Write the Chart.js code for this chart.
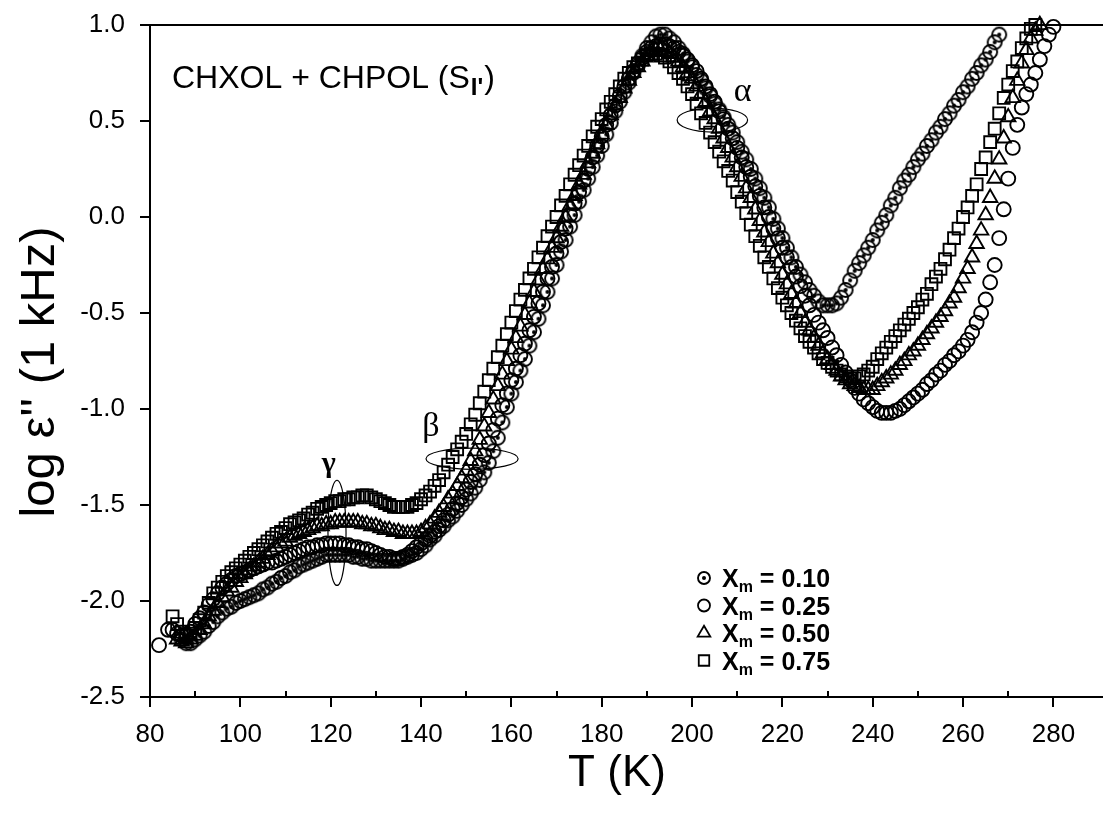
<!DOCTYPE html>
<html>
<head>
<meta charset="utf-8">
<script src="https://cdn.jsdelivr.net/npm/chart.js@4.4.0/dist/chart.umd.min.js"></script>
<style>
  html, body { margin: 0; padding: 0; background: #fff; overflow: hidden; }
  #wrap { width: 1103px; height: 823px; }
</style>
</head>
<body>
<div id="wrap"><canvas id="chart" width="1103" height="823"></canvas></div>
<script>
// temperature grid (K)
const temps = [
  82, 83, 84, 85, 86, 87, 88, 89,
  90, 91, 92, 93, 94, 95, 96, 97, 98, 99,
  100, 101, 102, 103, 104, 105, 106, 107, 108, 109,
  110, 111, 112, 113, 114, 115, 116, 117, 118, 119,
  120, 121, 122, 123, 124, 125, 126, 127, 128, 129,
  130, 131, 132, 133, 134, 135, 136, 137, 138, 139,
  140, 141, 142, 143, 144, 145, 146, 147, 148, 149,
  150, 151, 152, 153, 154, 155, 156, 157, 158, 159,
  160, 161, 162, 163, 164, 165, 166, 167, 168, 169,
  170, 171, 172, 173, 174, 175, 176, 177, 178, 179,
  180, 181, 182, 183, 184, 185, 186, 187, 188, 189,
  190, 191, 192, 193, 194, 195, 196, 197, 198, 199,
  200, 201, 202, 203, 204, 205, 206, 207, 208, 209,
  210, 211, 212, 213, 214, 215, 216, 217, 218, 219,
  220, 221, 222, 223, 224, 225, 226, 227, 228, 229,
  230, 231, 232, 233, 234, 235, 236, 237, 238, 239,
  240, 241, 242, 243, 244, 245, 246, 247, 248, 249,
  250, 251, 252, 253, 254, 255, 256, 257, 258, 259,
  260, 261, 262, 263, 264, 265, 266, 267, 268, 269,
  270, 271, 272, 273, 274, 275, 276, 277, 278, 279,
  280
];

// log eps'' at 1 kHz, one array per molar fraction
const xm010 = [
  null, null, null, null, null, -2.20, -2.22, -2.22,
  -2.20, -2.18, -2.16, -2.13, -2.11, -2.08, -2.06, -2.04, -2.03, -2.01,
  -2.00, -1.99, -1.98, -1.97, -1.96, -1.94, -1.93, -1.91, -1.90, -1.88,
  -1.87, -1.85, -1.84, -1.82, -1.81, -1.80, -1.79, -1.78, -1.77, -1.76,
  -1.76, -1.76, -1.76, -1.76, -1.76, -1.77, -1.77, -1.78, -1.78, -1.79,
  -1.79, -1.79, -1.79, -1.79, -1.79, -1.79, -1.78, -1.77, -1.76, -1.75,
  -1.73, -1.71, -1.68, -1.66, -1.63, -1.61, -1.58, -1.56, -1.53, -1.50,
  -1.47, -1.44, -1.41, -1.37, -1.33, -1.28, -1.22, -1.15, -1.07, -0.99,
  -0.92, -0.86, -0.80, -0.74, -0.67, -0.60, -0.53, -0.46, -0.39, -0.32,
  -0.25, -0.18, -0.12, -0.05, 0.01, 0.08, 0.14, 0.20, 0.26, 0.32,
  0.37, 0.43, 0.49, 0.55, 0.60, 0.65, 0.70, 0.75, 0.79, 0.84,
  0.88, 0.91, 0.94, 0.95, 0.95, 0.93, 0.91, 0.88, 0.85, 0.81,
  0.78, 0.74, 0.71, 0.67, 0.63, 0.59, 0.56, 0.52, 0.48, 0.44,
  0.39, 0.34, 0.30, 0.25, 0.20, 0.15, 0.10, 0.05, -0.01, -0.06,
  -0.11, -0.16, -0.21, -0.26, -0.30, -0.34, -0.38, -0.41, -0.44, -0.46,
  -0.46, -0.46, -0.45, -0.42, -0.38, -0.33, -0.28, -0.24, -0.20, -0.16,
  -0.12, -0.07, -0.03, 0.01, 0.06, 0.10, 0.15, 0.19, 0.22, 0.26,
  0.30, 0.33, 0.37, 0.40, 0.44, 0.47, 0.51, 0.54, 0.58, 0.61,
  0.65, 0.68, 0.72, 0.75, 0.79, 0.82, 0.86, 0.91, 0.95, null,
  null, null, null, null, null, null, null, null, null, null,
  null
];

const xm025 = [
  -2.23, null, -2.15, -2.15, -2.17, -2.18, -2.18, -2.16,
  -2.12, -2.09, -2.06, -2.02, -1.99, -1.96, -1.93, -1.91, -1.89, -1.87,
  -1.86, -1.85, -1.84, -1.83, -1.82, -1.81, -1.80, -1.80, -1.79, -1.78,
  -1.77, -1.76, -1.75, -1.74, -1.73, -1.72, -1.72, -1.71, -1.71, -1.70,
  -1.70, -1.70, -1.70, -1.71, -1.71, -1.72, -1.72, -1.73, -1.73, -1.74,
  -1.75, -1.76, -1.77, -1.77, -1.78, -1.78, -1.77, -1.76, -1.74, -1.72,
  -1.70, -1.68, -1.66, -1.64, -1.61, -1.58, -1.55, -1.52, -1.49, -1.46,
  -1.42, -1.38, -1.34, -1.29, -1.24, -1.18, -1.11, -1.05, -0.98, -0.92,
  -0.85, -0.79, -0.72, -0.66, -0.59, -0.52, -0.45, -0.39, -0.32, -0.26,
  -0.19, -0.13, -0.06, 0.01, 0.07, 0.13, 0.19, 0.25, 0.31, 0.37,
  0.42, 0.48, 0.53, 0.58, 0.63, 0.68, 0.72, 0.76, 0.80, 0.83,
  0.86, 0.88, 0.89, 0.90, 0.90, 0.89, 0.88, 0.86, 0.84, 0.82,
  0.79, 0.76, 0.72, 0.68, 0.64, 0.60, 0.55, 0.51, 0.46, 0.41,
  0.36, 0.31, 0.26, 0.21, 0.16, 0.11, 0.05, 0.00, -0.06, -0.11,
  -0.16, -0.21, -0.26, -0.31, -0.36, -0.41, -0.46, -0.51, -0.55, -0.59,
  -0.63, -0.68, -0.72, -0.77, -0.81, -0.85, -0.89, -0.92, -0.95, -0.97,
  -0.99, -1.01, -1.02, -1.02, -1.02, -1.01, -1.00, -0.98, -0.96, -0.94,
  -0.92, -0.90, -0.87, -0.85, -0.82, -0.80, -0.77, -0.75, -0.72, -0.70,
  -0.67, -0.64, -0.60, -0.55, -0.50, -0.43, -0.34, -0.25, -0.11, 0.04,
  0.20, 0.36, 0.48, 0.57, 0.64, 0.69, 0.75, 0.82, 0.89, 0.95,
  0.99
];

const xm050 = [
  null, null, null, null, -2.20, -2.21, -2.22, -2.20,
  -2.18, -2.15, -2.12, -2.08, -2.05, -2.01, -1.98, -1.95, -1.93, -1.90,
  -1.88, -1.86, -1.84, -1.82, -1.80, -1.78, -1.76, -1.74, -1.72, -1.70,
  -1.69, -1.67, -1.66, -1.65, -1.64, -1.63, -1.62, -1.61, -1.61, -1.60,
  -1.60, -1.59, -1.59, -1.59, -1.59, -1.59, -1.59, -1.60, -1.60, -1.61,
  -1.61, -1.62, -1.63, -1.63, -1.64, -1.64, -1.65, -1.65, -1.65, -1.65,
  -1.64, -1.62, -1.60, -1.57, -1.54, -1.51, -1.47, -1.44, -1.40, -1.36,
  -1.32, -1.27, -1.22, -1.16, -1.09, -1.02, -0.95, -0.88, -0.82, -0.75,
  -0.69, -0.63, -0.57, -0.51, -0.45, -0.39, -0.33, -0.27, -0.22, -0.16,
  -0.11, -0.05, 0.00, 0.06, 0.11, 0.17, 0.22, 0.28, 0.33, 0.38,
  0.43, 0.48, 0.53, 0.58, 0.62, 0.67, 0.71, 0.75, 0.78, 0.81,
  0.84, 0.86, 0.87, 0.87, 0.86, 0.85, 0.83, 0.81, 0.78, 0.75,
  0.72, 0.68, 0.64, 0.60, 0.55, 0.51, 0.46, 0.41, 0.36, 0.31,
  0.26, 0.21, 0.15, 0.10, 0.04, -0.02, -0.08, -0.13, -0.19, -0.24,
  -0.30, -0.35, -0.40, -0.45, -0.50, -0.55, -0.59, -0.63, -0.67, -0.71,
  -0.74, -0.77, -0.80, -0.83, -0.85, -0.87, -0.88, -0.89, -0.90, -0.90,
  -0.90, -0.88, -0.86, -0.84, -0.82, -0.80, -0.77, -0.75, -0.72, -0.70,
  -0.67, -0.64, -0.61, -0.58, -0.55, -0.52, -0.49, -0.45, -0.42, -0.37,
  -0.32, -0.27, -0.21, -0.14, -0.07, 0.01, 0.10, 0.20, 0.30, 0.41,
  0.52, 0.62, 0.71, 0.80, 0.87, 0.93, 0.97, 1.00, null, null,
  null
];

const xm075 = [
  null, null, null, -2.08, -2.12, -2.16, -2.18, -2.17,
  -2.14, -2.10, -2.06, -2.01, -1.96, -1.93, -1.90, -1.87, -1.85, -1.83,
  -1.81, -1.79, -1.77, -1.75, -1.73, -1.71, -1.69, -1.67, -1.65, -1.64,
  -1.62, -1.60, -1.59, -1.58, -1.57, -1.55, -1.54, -1.52, -1.51, -1.50,
  -1.49, -1.48, -1.48, -1.47, -1.47, -1.46, -1.46, -1.45, -1.45, -1.46,
  -1.47, -1.48, -1.49, -1.50, -1.51, -1.51, -1.51, -1.51, -1.50, -1.49,
  -1.47, -1.45, -1.43, -1.40, -1.37, -1.33, -1.29, -1.25, -1.21, -1.17,
  -1.13, -1.08, -1.03, -0.97, -0.91, -0.85, -0.79, -0.73, -0.67, -0.61,
  -0.55, -0.49, -0.43, -0.38, -0.32, -0.27, -0.21, -0.16, -0.10, -0.05,
  0.00, 0.06, 0.11, 0.17, 0.22, 0.27, 0.32, 0.37, 0.42, 0.47,
  0.51, 0.56, 0.60, 0.64, 0.68, 0.72, 0.75, 0.78, 0.80, 0.82,
  0.84, 0.85, 0.85, 0.84, 0.83, 0.81, 0.78, 0.75, 0.72, 0.68,
  0.64, 0.59, 0.54, 0.49, 0.44, 0.39, 0.34, 0.29, 0.24, 0.19,
  0.13, 0.08, 0.02, -0.04, -0.10, -0.15, -0.21, -0.26, -0.32, -0.37,
  -0.42, -0.46, -0.50, -0.54, -0.58, -0.62, -0.65, -0.68, -0.71, -0.74,
  -0.76, -0.78, -0.80, -0.82, -0.83, -0.84, -0.84, -0.83, -0.82, -0.80,
  -0.78, -0.74, -0.71, -0.68, -0.65, -0.62, -0.59, -0.56, -0.53, -0.50,
  -0.47, -0.43, -0.40, -0.35, -0.31, -0.27, -0.22, -0.17, -0.11, -0.06,
  0.00, 0.05, 0.11, 0.17, 0.25, 0.31, 0.39, 0.46, 0.54, 0.62,
  0.69, 0.76, 0.81, 0.88, 0.93, 0.98, 1.00, null, null, null,
  null
];

const seriesLabels = ['0.10', '0.25', '0.50', '0.75'];
const xTicks = [80, 90, 100, 110, 120, 130, 140, 150, 160, 170, 180, 190, 200, 210, 220, 230, 240, 250, 260, 270, 280];
const yTicks = [-2.5, -2.0, -1.5, -1.0, -0.5, 0.0, 0.5, 1.0];

const FONT = 'Arial, "Liberation Sans", sans-serif';
const SERIF = '"Times New Roman", "Liberation Serif", serif';

function toPoints(values) {
    return temps.map((t, i) => values[i] === null ? null : { x: t, y: values[i] }).filter(p => p);
}

// circle with a dot in the middle (no built-in style for it)
function makeDotCircle(r) {
    const c = document.createElement('canvas');
    const s = Math.ceil(2 * r + 4);
    c.width = s; c.height = s;
    const g = c.getContext('2d');
    g.strokeStyle = '#000';
    g.lineWidth = 1.9;
    g.beginPath();
    g.arc(s / 2, s / 2, r, 0, Math.PI * 2);
    g.stroke();
    g.fillStyle = '#000';
    g.beginPath();
    g.arc(s / 2, s / 2, 2, 0, Math.PI * 2);
    g.fill();
    return c;
}
const dotCircle = makeDotCircle(7);
const dotCircleSmall = makeDotCircle(6);

const markers = [
    { pointStyle: dotCircle, radius: 7 },
    { pointStyle: 'circle', radius: 7 },
    { pointStyle: 'triangle', radius: 8.3 },
    { pointStyle: 'rect', radius: 8.4 }
];

const allSeries = [xm010, xm025, xm050, xm075];
const datasets = allSeries.map((vals, i) => ({
    label: 'Xm = ' + seriesLabels[i],
    data: toPoints(vals),
    pointStyle: markers[i].pointStyle,
    pointRadius: markers[i].radius,
    pointBorderWidth: 1.9,
    pointBorderColor: '#000',
    pointBackgroundColor: 'rgba(0,0,0,0)',
    showLine: false,
    clip: false
}));

function drawEllipse(ctx, xs, ys, t, v, dt, dv) {
    const cx = xs.getPixelForValue(t), cy = ys.getPixelForValue(v);
    const rx = xs.getPixelForValue(t + dt) - cx;
    const ry = cy - ys.getPixelForValue(v + dv);
    ctx.beginPath();
    ctx.ellipse(cx, cy, rx, ry, 0, 0, Math.PI * 2);
    ctx.stroke();
}

const decorPlugin = {
    id: 'decor',
    afterDraw(chart) {
        const ctx = chart.ctx;
        const xs = chart.scales.x, ys = chart.scales.y;
        const area = chart.chartArea;
        ctx.save();
        ctx.strokeStyle = '#000';
        ctx.fillStyle = '#000';

        // frame: left, bottom, top
        ctx.lineWidth = 2;
        ctx.beginPath();
        ctx.moveTo(area.left, area.top - 1);
        ctx.lineTo(area.left, area.bottom);
        ctx.lineTo(chart.width, area.bottom);
        ctx.moveTo(area.left - 1, area.top);
        ctx.lineTo(chart.width, area.top);
        ctx.stroke();

        // x ticks: labelled ones outward, the others inward
        xTicks.forEach(v => {
            const px = Math.round(xs.getPixelForValue(v));
            ctx.beginPath();
            if (v % 20 === 0) {
                ctx.moveTo(px, area.bottom);
                ctx.lineTo(px, area.bottom + 10);
            } else {
                ctx.moveTo(px, area.bottom);
                ctx.lineTo(px, area.bottom - 6);
            }
            ctx.stroke();
        });
        yTicks.forEach(v => {
            const py = Math.round(ys.getPixelForValue(v));
            ctx.beginPath();
            ctx.moveTo(area.left, py);
            ctx.lineTo(area.left - 10, py);
            ctx.stroke();
        });

        // axis titles
        ctx.textAlign = 'center';
        ctx.textBaseline = 'alphabetic';
        ctx.font = '44px ' + FONT;
        ctx.fillText('T (K)', 617, 786);
        ctx.save();
        ctx.translate(54, 372);
        ctx.rotate(-Math.PI / 2);
        ctx.font = '49px ' + FONT;
        ctx.fillText("log \u03B5'' (1 kHz)", 0, 0);
        ctx.restore();

        // sample title
        ctx.textAlign = 'left';
        ctx.font = '32px ' + FONT;
        let x = 172;
        const base = 88;
        const head = 'CHXOL + CHPOL (S';
        ctx.fillText(head, x, base);
        x += ctx.measureText(head).width;
        ctx.font = 'bold 24px ' + FONT;
        ctx.fillText("I'", x + 1, base + 7);
        x += ctx.measureText("I'").width + 2;
        ctx.font = '32px ' + FONT;
        ctx.fillText(')', x, base);

        // relaxation labels
        ctx.lineWidth = 1.2;
        drawEllipse(ctx, xs, ys, 204.5, 0.505, 7.8, 0.0625);
        drawEllipse(ctx, xs, ys, 151.3, -1.259, 10.2, 0.055);
        drawEllipse(ctx, xs, ys, 121.4, -1.645, 2.0, 0.274);
        ctx.textAlign = 'center';
        ctx.textBaseline = 'middle';
        ctx.font = '34px ' + SERIF;
        ctx.fillText('\u03B1', xs.getPixelForValue(211.2), ys.getPixelForValue(0.65));
        ctx.fillText('\u03B2', xs.getPixelForValue(142.2), ys.getPixelForValue(-1.095));
        ctx.font = 'bold 30px ' + SERIF;
        ctx.fillText('\u03B3', xs.getPixelForValue(119.6), ys.getPixelForValue(-1.29));

        // legend
        const legX = 704, legY = 578, legStep = 27.5;
        seriesLabels.forEach((lab, i) => {
            const y = legY + i * legStep;
            if (i === 0) {
                ctx.drawImage(dotCircleSmall, legX - dotCircleSmall.width / 2, y - dotCircleSmall.height / 2);
            } else {
                ctx.strokeStyle = '#000';
                ctx.fillStyle = 'rgba(0,0,0,0)';
                ctx.lineWidth = 1.8;
                Chart.helpers.drawPoint(ctx, {
                    pointStyle: markers[i].pointStyle,
                    radius: markers[i].radius - 1,
                    borderWidth: 1.8,
                    rotation: 0
                }, legX, y);
            }
            ctx.fillStyle = '#000';
            ctx.textAlign = 'left';
            ctx.textBaseline = 'alphabetic';
            let tx = 722;
            ctx.font = 'bold 25px ' + FONT;
            ctx.fillText('X', tx, y + 9);
            tx += ctx.measureText('X').width;
            ctx.font = 'bold 16px ' + FONT;
            ctx.fillText('m', tx, y + 14);
            tx += ctx.measureText('m').width;
            ctx.font = 'bold 25px ' + FONT;
            ctx.fillText(' = ' + lab, tx, y + 9);
        });
        ctx.restore();
    }
};

new Chart(document.getElementById('chart'), {
    type: 'scatter',
    data: { datasets: datasets },
    options: {
        responsive: false,
        animation: false,
        layout: { padding: { top: 25, left: 0, right: 0, bottom: 0 } },
        plugins: {
            legend: { display: false },
            tooltip: { enabled: false }
        },
        scales: {
            x: {
                type: 'linear',
                min: 80,
                max: 288.7,
                afterBuildTicks: (scale) => { scale.ticks = xTicks.map(v => ({ value: v })); },
                afterFit: (scale) => {
                    scale.height = 126;
                    scale.paddingLeft = 0;
                    scale.paddingRight = 0;
                },
                grid: { display: false, drawTicks: false },
                border: { display: false },
                ticks: {
                    padding: 22,
                    maxRotation: 0,
                    autoSkip: false,
                    color: '#000',
                    font: { family: FONT, size: 26 },
                    callback: (v) => v % 20 === 0 ? String(v) : ''
                }
            },
            y: {
                type: 'linear',
                min: -2.5,
                max: 1.0,
                afterBuildTicks: (scale) => { scale.ticks = yTicks.map(v => ({ value: v })); },
                afterFit: (scale) => {
                    scale.width = 150;
                    scale.paddingTop = 0;
                    scale.paddingBottom = 0;
                },
                grid: { display: false, drawTicks: false },
                border: { display: false },
                ticks: {
                    padding: 25,
                    autoSkip: false,
                    color: '#000',
                    font: { family: FONT, size: 26 },
                    callback: (v) => Number(v).toFixed(1)
                }
            }
        }
    },
    plugins: [decorPlugin]
});
</script>
</body>
</html>
